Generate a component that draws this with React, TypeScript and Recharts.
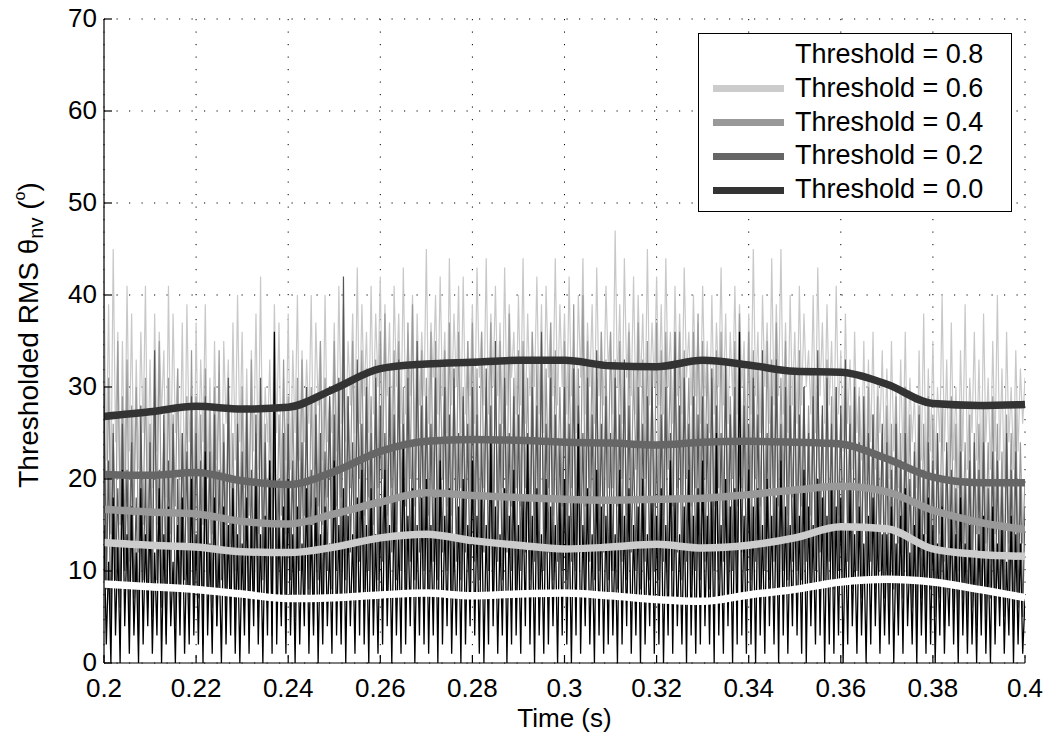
import React from "react";
import { LineChart, Line, XAxis, YAxis, CartesianGrid, Legend } from "recharts";

// sampling: 0.5 ms steps from 0.2 s to 0.4 s
const T0 = 0.2;
const DT = 0.0005;

// raw (unsmoothed) RMS traces
const rawLight = [
  43, 22, 39, 18, 45, 24, 36, 17, 35, 20, 41, 23, 38, 19, 33, 21, 36, 25, 41, 20,
  33, 19, 38, 23, 36, 27, 34, 18, 41, 21, 38, 25, 32, 20, 37, 18, 39, 24, 30, 16,
  37, 21, 33, 24, 39, 20, 31, 17, 35, 22, 29, 16, 35, 26, 33, 19, 37, 22, 40, 24,
  36, 19, 32, 17, 34, 23, 38, 21, 42, 19, 30, 24, 33, 21, 39, 25, 37, 20, 31, 22,
  38, 21, 34, 25, 40, 22, 34, 24, 33, 26, 40, 21, 37, 28, 35, 22, 40, 24, 29, 25,
  37, 23, 41, 26, 39, 24, 35, 28, 38, 25, 43, 26, 39, 29, 36, 25, 41, 27, 38, 30,
  42, 24, 39, 29, 37, 23, 41, 30, 38, 26, 43, 27, 36, 29, 40, 24, 38, 28, 36, 29,
  45, 26, 37, 31, 40, 27, 42, 29, 36, 25, 44, 28, 38, 30, 41, 25, 42, 27, 35, 29,
  39, 26, 43, 31, 36, 28, 44, 27, 38, 30, 41, 29, 37, 26, 43, 28, 39, 31, 36, 27,
  40, 28, 44, 26, 38, 29, 36, 30, 42, 27, 39, 25, 41, 31, 37, 29, 44, 28, 39, 30,
  38, 27, 42, 29, 35, 25, 40, 31, 44, 27, 37, 30, 39, 26, 43, 29, 36, 28, 41, 32,
  36, 27, 47, 30, 39, 26, 44, 31, 37, 29, 42, 27, 40, 30, 38, 26, 45, 28, 37, 30,
  42, 28, 39, 27, 44, 30, 36, 26, 41, 29, 38, 27, 43, 31, 36, 28, 40, 29, 37, 26,
  41, 29, 35, 25, 40, 27, 37, 30, 43, 28, 38, 26, 36, 29, 41, 27, 39, 30, 35, 24,
  38, 27, 45, 29, 36, 25, 40, 30, 37, 26, 44, 28, 39, 29, 45, 27, 37, 25, 40, 28,
  36, 26, 41, 28, 38, 30, 34, 27, 40, 25, 43, 29, 37, 26, 39, 28, 35, 24, 41, 27,
  34, 23, 38, 26, 33, 21, 36, 25, 30, 22, 35, 20, 33, 24, 36, 21, 31, 25, 34, 22,
  32, 20, 35, 23, 30, 19, 33, 22, 36, 21, 31, 24, 29, 19, 34, 22, 38, 20, 32, 23,
  35, 21, 30, 24, 40, 23, 33, 20, 37, 22, 30, 19, 34, 23, 39, 21, 31, 25, 36, 22,
  33, 20, 38, 24, 31, 21, 35, 23, 40, 22, 32, 19, 36, 24, 30, 21, 34, 23, 32, 26,
  31,
];
const rawMid = [
  27, 12, 31, 14, 26, 9, 35, 15, 29, 13, 33, 11, 28, 16, 30, 12, 24, 15, 31, 13,
  26, 11, 30, 15, 35, 13, 25, 10, 31, 14, 27, 17, 32, 12, 25, 16, 29, 10, 34, 14,
  29, 11, 27, 15, 32, 8, 28, 14, 30, 16, 34, 12, 26, 15, 30, 13, 25, 10, 28, 14,
  30, 12, 28, 16, 33, 10, 25, 14, 30, 13, 26, 11, 28, 15, 31, 12, 27, 16, 33, 14,
  29, 11, 28, 15, 31, 14, 33, 16, 27, 12, 30, 15, 29, 17, 35, 15, 31, 18, 28, 16,
  35, 17, 30, 18, 33, 16, 29, 19, 35, 17, 31, 20, 34, 16, 32, 18, 29, 15, 33, 19,
  36, 20, 38, 16, 32, 19, 34, 15, 35, 18, 30, 17, 37, 20, 39, 17, 33, 19, 34, 18,
  31, 16, 36, 18, 35, 15, 33, 20, 34, 17, 37, 16, 31, 18, 36, 19, 30, 16, 35, 18,
  37, 16, 32, 14, 36, 19, 30, 18, 37, 15, 31, 17, 35, 19, 33, 16, 38, 17, 31, 19,
  34, 17, 35, 19, 31, 15, 36, 16, 33, 18, 35, 15, 32, 19, 37, 16, 34, 18, 30, 17,
  35, 16, 33, 19, 39, 15, 32, 18, 40, 17, 35, 19, 33, 18, 31, 16, 36, 17, 33, 19,
  36, 19, 33, 17, 35, 20, 30, 16, 36, 18, 32, 21, 37, 18, 33, 20, 35, 18, 30, 17,
  37, 18, 34, 16, 36, 21, 32, 17, 33, 19, 36, 18, 34, 20, 31, 17, 36, 19, 38, 18,
  35, 20, 33, 18, 31, 17, 34, 19, 36, 16, 32, 18, 29, 20, 35, 17, 38, 19, 32, 18,
  36, 18, 34, 20, 32, 17, 30, 16, 35, 19, 33, 18, 37, 17, 31, 19, 35, 16, 32, 18,
  28, 15, 34, 17, 30, 13, 28, 16, 32, 14, 31, 17, 27, 12, 33, 15, 29, 13, 30, 16,
  27, 13, 30, 15, 28, 11, 31, 14, 29, 12, 26, 15, 30, 13, 27, 11, 29, 14, 25, 12,
  28, 14, 26, 11, 29, 13, 25, 12, 30, 14, 27, 10, 24, 13, 28, 12, 26, 14, 29, 11,
  27, 12, 25, 14, 28, 11, 23, 13, 29, 12, 26, 10, 28, 13, 24, 12, 27, 11, 25, 14,
  26, 12, 28, 13, 24, 11, 29, 14, 26, 12, 23, 10, 27, 13, 25, 12, 28, 11, 24, 13,
  20,
];
const rawDark = [
  30, 8, 22, 4, 25, 9, 19, 6, 26, 10, 21, 5, 24, 7, 18, 3, 28, 9, 20, 6,
  24, 5, 34, 9, 21, 6, 27, 3, 22, 8, 26, 4, 20, 7, 25, 9, 23, 5, 29, 6,
  25, 7, 22, 2, 29, 8, 23, 6, 27, 4, 21, 9, 24, 5, 31, 7, 20, 3, 26, 8,
  23, 6, 28, 4, 21, 8, 27, 5, 31, 9, 24, 6, 22, 3, 26, 8, 20, 5, 25, 7,
  26, 9, 22, 5, 28, 10, 24, 7, 30, 8, 21, 4, 27, 9, 25, 6, 23, 10, 29, 8,
  27, 10, 31, 6, 42, 9, 29, 12, 24, 7, 33, 11, 26, 8, 30, 10, 25, 6, 31, 9,
  28, 11, 25, 8, 30, 12, 27, 9, 33, 10, 26, 7, 31, 11, 24, 9, 35, 12, 28, 10,
  29, 8, 26, 11, 31, 9, 24, 12, 30, 10, 27, 7, 32, 11, 25, 9, 29, 12, 26, 8,
  30, 11, 27, 9, 24, 12, 32, 10, 28, 8, 35, 11, 26, 9, 31, 12, 25, 10, 29, 8,
  27, 10, 33, 12, 25, 9, 30, 11, 28, 8, 36, 10, 26, 12, 31, 9, 27, 11, 24, 10,
  30, 9, 26, 11, 32, 10, 28, 12, 25, 8, 31, 11, 27, 9, 34, 10, 26, 12, 29, 9,
  25, 10, 31, 8, 27, 11, 33, 9, 28, 12, 24, 10, 30, 8, 26, 11, 29, 9, 32, 10,
  24, 9, 27, 11, 30, 8, 25, 10, 36, 12, 28, 9, 31, 11, 26, 8, 29, 10, 27, 9,
  29, 11, 26, 8, 32, 10, 28, 9, 25, 11, 33, 8, 27, 10, 30, 9, 24, 12, 28, 10,
  26, 9, 31, 11, 27, 8, 34, 10, 25, 9, 29, 11, 33, 8, 26, 10, 30, 9, 28, 11,
  32, 10, 27, 9, 30, 11, 25, 8, 29, 10, 34, 12, 28, 9, 31, 11, 26, 8, 30, 10,
  28, 9, 33, 11, 26, 8, 30, 10, 24, 7, 29, 9, 25, 11, 27, 8, 23, 10, 26, 7,
  24, 6, 21, 8, 26, 5, 22, 7, 25, 9, 20, 6, 23, 4, 27, 7, 21, 5, 24, 8,
  22, 5, 25, 7, 20, 4, 24, 8, 21, 6, 19, 3, 23, 7, 20, 5, 22, 6, 24, 4,
  21, 6, 24, 5, 19, 7, 23, 4, 22, 6, 20, 5, 25, 7, 21, 4, 23, 6, 20, 5,
  17,
];
const rawBlack = [
  15, 2, 11, 0, 18, 3, 13, 0, 21, 4, 14, 1, 17, 3, 12, 0, 19, 2, 14, 4,
  16, 1, 12, 3, 19, 0, 14, 2, 17, 4, 11, 0, 15, 3, 18, 1, 13, 2, 20, 3,
  14, 2, 16, 0, 23, 3, 13, 1, 18, 4, 12, 0, 17, 2, 15, 3, 19, 1, 14, 0,
  13, 3, 18, 1, 15, 4, 20, 2, 14, 0, 16, 3, 22, 1, 36, 2, 15, 4, 17, 1,
  20, 3, 14, 0, 17, 2, 13, 4, 19, 1, 15, 3, 18, 0, 14, 2, 17, 4, 13, 1,
  22, 3, 15, 2, 19, 0, 16, 4, 14, 1, 18, 3, 21, 2, 15, 0, 19, 3, 14, 1,
  17, 2, 21, 4, 15, 0, 18, 3, 14, 1, 24, 2, 16, 4, 19, 0, 15, 3, 18, 2,
  20, 1, 15, 3, 18, 0, 22, 2, 16, 4, 19, 1, 14, 3, 17, 0, 20, 2, 15, 4,
  22, 3, 16, 1, 18, 0, 15, 2, 24, 4, 17, 1, 14, 3, 19, 0, 16, 2, 21, 3,
  15, 1, 18, 4, 24, 2, 16, 0, 19, 3, 14, 1, 20, 2, 17, 4, 15, 0, 18, 3,
  20, 2, 16, 0, 18, 3, 26, 1, 15, 4, 19, 2, 14, 0, 21, 3, 17, 1, 16, 2,
  18, 3, 14, 0, 21, 2, 16, 4, 19, 1, 15, 3, 17, 0, 20, 2, 14, 4, 18, 1,
  16, 2, 19, 0, 15, 3, 22, 1, 18, 4, 14, 2, 17, 0, 21, 3, 16, 1, 19, 2,
  22, 4, 16, 2, 18, 0, 25, 3, 15, 1, 20, 4, 17, 0, 19, 2, 36, 3, 16, 1,
  21, 2, 17, 0, 19, 3, 15, 1, 20, 4, 16, 2, 18, 0, 22, 3, 17, 1, 15, 4,
  19, 3, 16, 1, 21, 0, 17, 4, 15, 2, 20, 3, 18, 0, 16, 2, 19, 1, 17, 3,
  18, 0, 15, 2, 19, 4, 14, 1, 17, 3, 13, 0, 16, 2, 18, 4, 15, 1, 14, 3,
  14, 2, 17, 0, 13, 3, 16, 1, 19, 4, 12, 2, 15, 0, 17, 3, 14, 1, 18, 2,
  15, 0, 13, 3, 17, 1, 12, 4, 16, 2, 14, 0, 18, 3, 13, 1, 15, 2, 12, 0,
  14, 3, 16, 1, 12, 0, 17, 2, 13, 4, 15, 1, 11, 3, 16, 0, 14, 2, 13, 1,
  7,
];

// smoothed curves, every 10 ms
const smoothT = [
  0.2, 0.21, 0.22, 0.23, 0.24, 0.25, 0.26, 0.27, 0.28, 0.29, 0.3,
  0.31, 0.32, 0.33, 0.34, 0.35, 0.36, 0.37, 0.38, 0.39, 0.4,
];
const thr08 = [8.6, 8.3, 8.0, 7.5, 7.0, 7.1, 7.4, 7.6, 7.3, 7.5, 7.6, 7.3, 6.9, 6.7, 7.4, 8.0, 8.8, 9.1, 8.8, 8.0, 7.1];
const thr06 = [13.1, 12.8, 12.6, 12.1, 12.0, 12.6, 13.6, 14.0, 13.3, 12.8, 12.4, 12.6, 12.9, 12.5, 12.8, 13.6, 14.8, 14.6, 12.4, 11.8, 11.6];
const thr04 = [16.7, 16.4, 16.2, 15.4, 15.1, 16.2, 17.5, 18.5, 18.2, 18.0, 17.8, 17.7, 17.8, 17.9, 18.3, 18.8, 19.2, 18.6, 16.6, 15.3, 14.5];
const thr02 = [20.5, 20.4, 20.7, 19.8, 19.4, 20.8, 23.0, 24.1, 24.3, 24.2, 24.0, 23.9, 23.7, 24.0, 24.1, 24.0, 23.8, 22.2, 20.2, 19.6, 19.6];
const thr00 = [26.8, 27.3, 27.9, 27.6, 27.8, 29.8, 32.0, 32.5, 32.7, 32.9, 32.9, 32.3, 32.2, 32.9, 32.4, 31.7, 31.6, 30.3, 28.2, 28.0, 28.1];

const xTicks = [0.2, 0.22, 0.24, 0.26, 0.28, 0.3, 0.32, 0.34, 0.36, 0.38, 0.4];
const yTicks = [0, 10, 20, 30, 40, 50, 60, 70];

const FONT = "'Liberation Sans', Arial, Helvetica, sans-serif";

const rawData = rawLight.map((v, i) => ({
  t: Number((T0 + i * DT).toFixed(4)),
  light: v,
  mid: rawMid[i],
  dark: rawDark[i],
  black: rawBlack[i],
}));

const smoothSeries = [
  { name: "Threshold = 0.8", color: "#ffffff", values: thr08 },
  { name: "Threshold = 0.6", color: "#cccccc", values: thr06 },
  { name: "Threshold = 0.4", color: "#999999", values: thr04 },
  { name: "Threshold = 0.2", color: "#666666", values: thr02 },
  { name: "Threshold = 0.0", color: "#333333", values: thr00 },
].map((s) => ({ ...s, data: smoothT.map((t, i) => ({ t, v: s.values[i] })) }));

const BottomTick = (props: any) => {
  const { x, y, payload } = props;
  return (
    <g>
      <line x1={x} y1={y} x2={x} y2={y - 8} stroke="#000" strokeWidth={1.2} />
      <text x={x} y={y + 34} textAnchor="middle" fontSize={26} fontFamily={FONT} fill="#000">
        {String(payload.value)}
      </text>
    </g>
  );
};

const TopTick = (props: any) => {
  const { x, y } = props;
  return <line x1={x} y1={y} x2={x} y2={y + 8} stroke="#000" strokeWidth={1.2} />;
};

const LeftTick = (props: any) => {
  const { x, y, payload } = props;
  return (
    <g>
      <line x1={x} y1={y} x2={x + 8} y2={y} stroke="#000" strokeWidth={1.2} />
      <text x={x - 7} y={y + 8} textAnchor="end" fontSize={26} fontFamily={FONT} fill="#000">
        {String(payload.value)}
      </text>
    </g>
  );
};

const RightTick = (props: any) => {
  const { x, y } = props;
  return <line x1={x} y1={y} x2={x - 8} y2={y} stroke="#000" strokeWidth={1.2} />;
};

const YLabel = (props: any) => {
  const vb = props.viewBox || {};
  const cx = 28;
  const cy = (vb.y ?? 19) + (vb.height ?? 644) / 2 - 6;
  return (
    <text
      x={cx}
      y={cy}
      transform={`rotate(-90, ${cx}, ${cy})`}
      textAnchor="middle"
      dominantBaseline="central"
      fontSize={28}
      fontFamily={FONT}
      fill="#000"
    >
      Thresholded RMS θ
      <tspan fontSize={20} dy={8}>nv</tspan>
      <tspan dy={-8}> (</tspan>
      <tspan fontSize={16} dy={-9}>o</tspan>
      <tspan dy={9}>)</tspan>
    </text>
  );
};

const XLabel = (props: any) => {
  const vb = props.viewBox || {};
  return (
    <text
      x={vb.x + vb.width / 2}
      y={vb.y + 55}
      textAnchor="middle"
      dominantBaseline="central"
      fontSize={26}
      fontFamily={FONT}
      fill="#000"
    >
      Time (s)
    </text>
  );
};

const LegendBox = () => (
  <div
    style={{
      boxSizing: "border-box",
      width: 314,
      height: 179,
      border: "1.5px solid #000",
      background: "#fff",
      paddingTop: 4,
      fontFamily: FONT,
    }}
  >
    {smoothSeries.map((s) => (
      <div key={s.name} style={{ display: "flex", alignItems: "center", height: 33.8 }}>
        <div style={{ marginLeft: 14, width: 71, height: 7, background: s.color }} />
        <span style={{ marginLeft: 11, fontSize: 27, color: "#000", lineHeight: "33.8px" }}>{s.name}</span>
      </div>
    ))}
  </div>
);

export default function App() {
  return (
    <div style={{ position: "absolute", left: 0, top: 0, background: "#fff" }}>
      <LineChart
        width={1052}
        height={738}
        data={rawData}
        margin={{ top: 19, right: 27, bottom: 0, left: 0 }}
      >
        <CartesianGrid stroke="#000" strokeWidth={1} strokeDasharray="1.2 11.3" />
        <XAxis
          dataKey="t"
          type="number"
          domain={[0.2, 0.4]}
          ticks={xTicks}
          interval={0}
          allowDataOverflow
          height={75}
          tickSize={0}
          tickMargin={0}
          tickLine={false}
          axisLine={{ stroke: "#000", strokeWidth: 1.2 }}
          tick={<BottomTick />}
          label={<XLabel />}
        />
        <XAxis
          xAxisId="top"
          orientation="top"
          dataKey="t"
          type="number"
          domain={[0.2, 0.4]}
          ticks={xTicks}
          interval={0}
          allowDataOverflow
          height={0}
          tickSize={0}
          tickMargin={0}
          tickLine={false}
          axisLine={{ stroke: "#000", strokeWidth: 1.2 }}
          tick={<TopTick />}
        />
        <YAxis
          type="number"
          domain={[0, 70]}
          ticks={yTicks}
          interval={0}
          allowDataOverflow
          width={104}
          tickSize={0}
          tickMargin={0}
          tickLine={false}
          axisLine={{ stroke: "#000", strokeWidth: 1.2 }}
          tick={<LeftTick />}
          label={<YLabel />}
        />
        <YAxis
          yAxisId="right"
          orientation="right"
          type="number"
          domain={[0, 70]}
          ticks={yTicks}
          interval={0}
          allowDataOverflow
          width={0}
          tickSize={0}
          tickMargin={0}
          tickLine={false}
          axisLine={{ stroke: "#000", strokeWidth: 1.2 }}
          tick={<RightTick />}
        />
        <Line dataKey="light" stroke="#c8c8c8" strokeWidth={1.2} dot={false} legendType="none" isAnimationActive={false} />
        <Line dataKey="mid" stroke="#999999" strokeWidth={1.2} dot={false} legendType="none" isAnimationActive={false} />
        <Line dataKey="dark" stroke="#555555" strokeWidth={1.2} dot={false} legendType="none" isAnimationActive={false} />
        <Line dataKey="black" stroke="#000000" strokeWidth={1.3} dot={false} legendType="none" isAnimationActive={false} />
        {smoothSeries.map((s) => (
          <Line
            key={s.name}
            data={s.data}
            dataKey="v"
            name={s.name}
            type="monotone"
            stroke={s.color}
            strokeWidth={7.5}
            dot={false}
            isAnimationActive={false}
          />
        ))}
        <Legend
          layout="vertical"
          align="center"
          verticalAlign="middle"
          content={<LegendBox />}
          wrapperStyle={{ left: 698, top: 33, width: 314, height: 179 }}
        />
      </LineChart>
    </div>
  );
}
